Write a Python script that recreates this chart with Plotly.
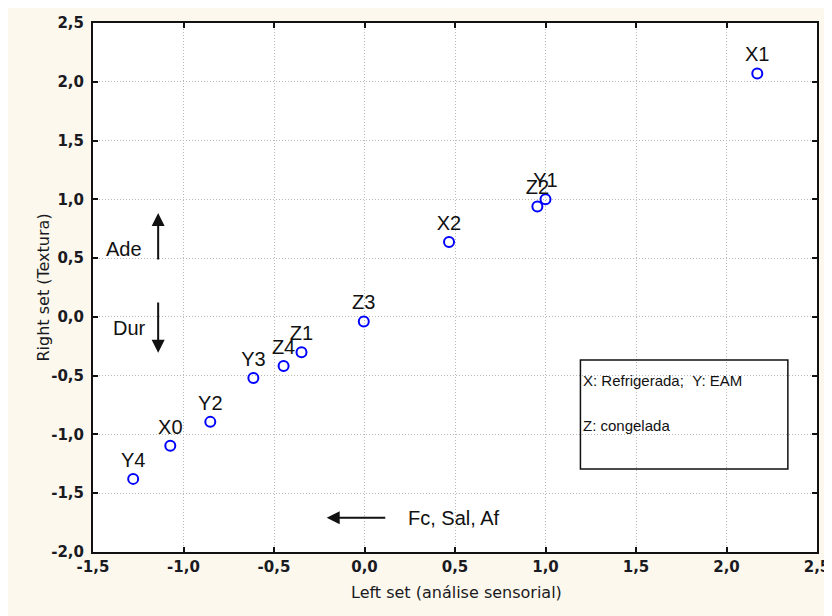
import plotly.graph_objects as go

labels = ["X1", "Y1", "Z2", "X2", "Z3", "Z1", "Z4", "Y3", "Y2", "X0", "Y4"]
left_set = [2.17, 1.00, 0.955, 0.467, -0.004, -0.348, -0.447, -0.614, -0.852, -1.073, -1.278]
right_set = [2.07, 1.00, 0.94, 0.638, -0.04, -0.30, -0.417, -0.519, -0.893, -1.097, -1.378]

x_tick_vals = [-1.5, -1.0, -0.5, 0.0, 0.5, 1.0, 1.5, 2.0, 2.5]
x_tick_text = ["-1,5", "-1,0", "-0,5", "0,0", "0,5", "1,0", "1,5", "2,0", "2,5"]
y_tick_vals = [-2.0, -1.5, -1.0, -0.5, 0.0, 0.5, 1.0, 1.5, 2.0, 2.5]
y_tick_text = ["-2,0", "-1,5", "-1,0", "-0,5", "0,0", "0,5", "1,0", "1,5", "2,0", "2,5"]

x_title = "Left set (análise sensorial)"
y_title = "Right set (Textura)"
legend_lines = ["X: Refrigerada;\u00a0\u00a0Y: EAM", "Z: congelada"]

fig = go.Figure()
fig.add_trace(go.Scatter(
    x=left_set, y=right_set, mode="markers+text", text=labels,
    textposition="top center",
    textfont=dict(family="Liberation Sans, Arial", size=20, color="#111111"),
    marker=dict(symbol="circle-open", size=10, color="#0000ff", line=dict(width=2, color="#0000ff")),
    showlegend=False, cliponaxis=False,
))

axis_common = dict(
    showline=True, linecolor="#111111", linewidth=2, mirror="ticks",
    ticks="inside", ticklen=5, tickcolor="#111111", tickwidth=2,
    showgrid=True, gridcolor="#b8b8b8", griddash="1px,2px", gridwidth=1,
    zeroline=False, automargin=False,
    tickfont=dict(family="DejaVu Sans", size=15, color="#1a1a22", weight="bold"),
)

fig.update_xaxes(range=[-1.5, 2.5], tickvals=x_tick_vals, ticktext=x_tick_text, **axis_common)
fig.update_yaxes(range=[-2.0, 2.5], tickvals=y_tick_vals, ticktext=y_tick_text,
                 ticklabelstandoff=4, **axis_common)

# page offset of the figure (body margin) is 8px
OFF = 8
PW, PH, L, T = 724, 529, 93 - OFF, 23 - OFF
def px_x(p):
    return (p - OFF - L) / PW
def px_y(p):
    return (T + PH - (p - OFF)) / PH

# axis titles as annotations
title_font = dict(family="DejaVu Sans", size=16, color="#1a1a22")
fig.add_annotation(xref="paper", yref="paper", x=px_x(456), y=px_y(604), text=x_title,
                   showarrow=False, font=title_font)
fig.add_annotation(xref="paper", yref="paper", x=px_x(31), y=px_y(288), text=y_title,
                   showarrow=False, textangle=-90, font=title_font)

# legend box
fig.add_shape(type="rect", xref="x", yref="y", x0=1.193, x1=2.339, y0=-1.293, y1=-0.366,
              line=dict(color="#111111", width=1.5), fillcolor="rgba(255,255,255,0)")
fig.add_annotation(x=1.195, y=-0.544, text=legend_lines[0], showarrow=False, xanchor="left",
                   font=dict(family="Liberation Sans, Arial", size=15, color="#111111"))
fig.add_annotation(x=1.195, y=-0.927, text=legend_lines[1], showarrow=False, xanchor="left",
                   font=dict(family="Liberation Sans, Arial", size=15, color="#111111"))

# arrows
arrow_style = dict(showarrow=True, arrowhead=2, arrowsize=1.3, arrowwidth=2, arrowcolor="#111111",
                   axref="x", ayref="y", text="")
fig.add_annotation(x=-1.14, y=0.884, ax=-1.14, ay=0.476, **arrow_style)
fig.add_annotation(x=-1.14, y=-0.306, ax=-1.14, ay=0.136, **arrow_style)
fig.add_annotation(x=-0.209, y=-1.709, ax=0.123, ay=-1.709, **arrow_style)

text_font = dict(family="Liberation Sans, Arial", size=20, color="#111111")
fig.add_annotation(x=-1.328, y=0.578, text="Ade", showarrow=False, font=text_font)
fig.add_annotation(x=-1.30, y=-0.094, text="Dur", showarrow=False, font=text_font)
fig.add_annotation(x=0.229, y=-1.709, text="Fc, Sal, Af", showarrow=False, xanchor="left", font=text_font)

fig.update_layout(
    width=832, height=616,
    margin=dict(l=L, r=832 - L - PW, t=T, b=616 - T - PH, autoexpand=False),
    paper_bgcolor="#fdf8ee", plot_bgcolor="#ffffff",
)

fig.write_html("out.html")
